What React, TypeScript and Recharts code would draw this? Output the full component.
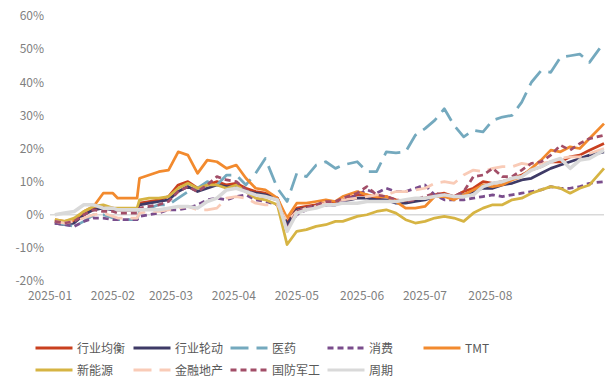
import React from "react";
import { LineChart, Line, XAxis, YAxis, ReferenceLine } from "recharts";

// calendar days since 2025-01-01 (34 = last day of the Spring Festival break)
const days = [
  0, 4, 8, 12, 16, 20, 24, 26, 34, 35,
  39, 43, 47, 51, 55, 59, 63, 67, 71, 75,
  79, 83, 87, 92, 96, 100, 104, 108, 112, 116,
  119, 125, 129, 133, 137, 141, 145, 149, 153, 157,
  161, 165, 169, 173, 177, 181, 185, 189, 193, 197,
  201, 205, 209, 213, 217, 221, 227,
];

const xTickDays = [-2, 24, 48, 74, 100, 127, 153, 180];
const xTickLabels = ["2025-01", "2025-02", "2025-03", "2025-04", "2025-05", "2025-06", "2025-07", "2025-08"];
const yTicks = [-20, -10, 0, 10, 20, 30, 40, 50, 60];

// cumulative return, %
const balanced = [
  -2, -2.5, -2, 0, 2, 2.5, 2, 1.5, 1.5, 3.5,
  4, 4.5, 5.5, 9, 10, 8, 9, 10, 9, 9.5,
  8, 7, 6.5, 5, -2.5, 2, 2.5, 3, 3.5, 3.5,
  4.5, 6, 6, 5, 5.5, 4.5, 4, 4.5, 5, 6,
  6.5, 5.5, 7, 8, 10, 9.5, 10, 11, 12, 13.5,
  14.5, 16, 16, 17.5, 18, 19.5, 21.5,
];
const rotation = [
  -2.5, -3, -2.5, 0, 1.5, 2, 1.5, 1.5, 1.5, 3,
  3.5, 4, 4.5, 7, 8.5, 7, 8, 9, 8.5, 8.5,
  7, 6.5, 6, 5, -3, 1.5, 2, 2.5, 3, 3,
  4, 5, 5, 4.5, 4.5, 3.5, 3.5, 4, 4.5, 5.5,
  6, 5.5, 6, 7, 8, 8, 9, 9.5, 10.5, 11,
  12.5, 14, 15, 16, 17, 18, 19,
];
const pharma = [
  -2, -3, -3.5, -2, 0, 0, -1, -1.5, -1.5, 1,
  2, 3, 3, 5, 7, 8, 10, 9, 12, 12,
  9, 12.5, 17, 8, 4, 12.5, 11.5, 15, 16, 14,
  15, 16, 13, 13, 19, 18.7, 19, 24, 26, 28.5,
  32, 27, 23.5, 25.5, 25, 28.5, 29.5, 30, 34, 40,
  43.5, 43, 47.5, 48, 48.5, 46, 52,
];
const consumer = [
  -2.5, -3, -3.5, -2, -1, -1, -1.5, -1.5, -1.5, -0.5,
  0, 0.5, 1.5, 1.5, 2, 3, 4.5, 5, 4.5, 5.5,
  6, 4.5, 4, 3, -4, 0, 1.5, 2.5, 3, 3,
  4, 6, 7.5, 6.5, 8, 7, 7, 8, 9, 6,
  4.5, 4.5, 4.5, 5, 5.5, 6, 5.5, 6, 6.5, 7,
  7.5, 8.5, 8, 8, 8.5, 9.5, 10,
];
const tmt = [
  -1.5, -2, -1.5, 1, 2.5, 6.5, 6.5, 5, 5, 11,
  12, 13, 13.5, 19, 18, 12.5, 16.5, 16, 14, 15,
  11, 8, 7.5, 5, -1, 3.5, 3.5, 4, 4.5, 4,
  5.5, 7, 6, 5.5, 5.5, 4, 2, 2, 2.5, 5.5,
  5.5, 4.5, 6, 7.5, 9, 8.5, 9, 10.5, 11.5, 14,
  16.5, 19.5, 19, 20.5, 20, 23, 27.5,
];
const newEnergy = [
  -1.5, -2, -1, 1, 2.5, 3, 2, 2, 2, 4.5,
  5, 5, 5.5, 8, 9.5, 8, 9, 9, 8, 9,
  7, 5, 4.5, 3, -9, -5, -4.5, -3.5, -3, -2,
  -2, -0.5, 0, 1, 1.5, 0.5, -1.5, -2.5, -2, -1,
  -0.5, -1, -2, 0.5, 2, 3, 3, 4.5, 5, 6.5,
  7.5, 8.5, 8, 6.5, 8, 9, 14,
];
const finance = [
  -2, -2.5, -2, -1, 0, 0.5, -0.5, -1, -1, 0.5,
  1, 1, 1.5, 2, 2.5, 1.5, 1.5, 2, 5, 5.5,
  5, 3.5, 3, 3, -2, 1, 2, 2.5, 3.5, 4,
  4.5, 5, 5.5, 6, 6, 7, 7, 7.5, 8, 9.5,
  10, 9.5, 12, 13.5, 13, 14, 14.5, 14.5, 15.5, 15,
  15.5, 16, 17, 17.5, 17.5, 18.5, 20,
];
const defense = [
  -2, -2.5, -2, 0, 1.5, 1, 1, 0.5, 0.5, 2,
  2.5, 3, 4, 7, 8.5, 7, 9, 11.5, 10.5, 10,
  7.5, 6, 5.5, 4.5, -4.5, 1, 2, 3, 4, 4,
  5, 6.5, 8.5, 6, 5.5, 4.5, 4, 4.5, 5.5, 6.5,
  6, 5.5, 7, 11.5, 12, 14, 11.5, 11.5, 13.5, 15.5,
  16, 18, 21, 19.5, 21.5, 23, 24,
];
const cycle = [
  0, 0.5, 1, 3, 3, 2, 2, 1.5, 1.5, 1.5,
  1.5, 1.5, 2, 2.5, 2.5, 2, 4, 5, 7.5, 8,
  7, 6, 5.5, 4.5, -5, 0.5, 1.5, 2, 3, 3,
  3.5, 3.5, 4, 4, 4, 4, 4.5, 5, 5, 5.5,
  6, 5.5, 5.5, 6, 8.5, 9.5, 10, 11, 11.5, 13.5,
  14.5, 16, 17, 14, 16.5, 17, 19.5,
];

const SERIES = [
  { key: "balanced", name: "行业均衡", values: balanced, color: "#C9401F", dash: undefined, width: 2.75 },
  { key: "rotation", name: "行业轮动", values: rotation, color: "#3E3A66", dash: undefined, width: 2.75 },
  { key: "pharma", name: "医药", values: pharma, color: "#74A9BE", dash: "18 8", width: 2.75 },
  { key: "consumer", name: "消费", values: consumer, color: "#7A4D8C", dash: "6 4", width: 2.75 },
  { key: "tmt", name: "TMT", values: tmt, color: "#F28A2E", dash: undefined, width: 2.75 },
  { key: "newEnergy", name: "新能源", values: newEnergy, color: "#D6B443", dash: undefined, width: 2.75 },
  { key: "finance", name: "金融地产", values: finance, color: "#F9CBB7", dash: "18 8", width: 2.75 },
  { key: "defense", name: "国防军工", values: defense, color: "#A24E68", dash: "6 4", width: 2.75 },
  { key: "cycle", name: "周期", values: cycle, color: "#D9D9D9", dash: undefined, width: 3.5 },
];

const data = days.map((day, i) => {
  const row: Record<string, number> = { day };
  SERIES.forEach((s) => {
    row[s.key] = s.values[i];
  });
  return row;
});

const FONT = '"Noto Sans CJK SC", "Noto Sans", sans-serif';
const LEGEND_COLS = [35, 133, 230, 327, 423];

const LegendItem = ({ s }: { s: (typeof SERIES)[number] }) => (
  <div style={{ display: "flex", alignItems: "center" }}>
    <svg width={40} height={6}>
      <line x1={1.5} y1={3} x2={38.5} y2={3} stroke={s.color} strokeWidth={3} strokeDasharray={s.dash} />
    </svg>
    <span style={{ marginLeft: 3, fontSize: 12, color: "#595959" }}>{s.name}</span>
  </div>
);

export default function App() {
  return (
    <div style={{ position: "absolute", left: 0, top: 0, width: 612, height: 381, background: "#fff", fontFamily: FONT }}>
      <LineChart width={612} height={330} data={data} margin={{ top: 16, right: 8, left: 0, bottom: 0 }}>
        <XAxis
          dataKey="day"
          type="number"
          domain={[-2, 227]}
          ticks={xTickDays}
          tickFormatter={(v: number) => xTickLabels[xTickDays.indexOf(v)]}
          axisLine={false}
          tickLine={false}
          tickSize={0}
          tickMargin={10}
          height={49}
          interval={0}
          tick={{ fill: "#7F7F7F", fontSize: 12, fontFamily: FONT }}
        />
        <YAxis
          domain={[-20, 60]}
          ticks={yTicks}
          tickFormatter={(v: number) => `${v}%`}
          axisLine={false}
          tickLine={false}
          tickSize={0}
          tickMargin={6}
          width={50}
          interval={0}
          tick={{ fill: "#7F7F7F", fontSize: 12, fontFamily: FONT }}
        />
        <ReferenceLine y={0} stroke="#D9D9D9" strokeWidth={1.5} />
        {SERIES.map((s) => (
          <Line
            key={s.key}
            dataKey={s.key}
            name={s.name}
            type="linear"
            stroke={s.color}
            strokeWidth={s.width}
            strokeDasharray={s.dash}
            strokeLinejoin="round"
            dot={false}
            activeDot={false}
            isAnimationActive={false}
          />
        ))}
      </LineChart>
      {[SERIES.slice(0, 5), SERIES.slice(5)].map((row, r) => (
        <div key={r} style={{ position: "absolute", top: 339 + r * 22, left: 0, width: 612, height: 18 }}>
          {row.map((s, c) => (
            <div key={s.key} style={{ position: "absolute", left: LEGEND_COLS[c] - 1, top: 0 }}>
              <LegendItem s={s} />
            </div>
          ))}
        </div>
      ))}
    </div>
  );
}
